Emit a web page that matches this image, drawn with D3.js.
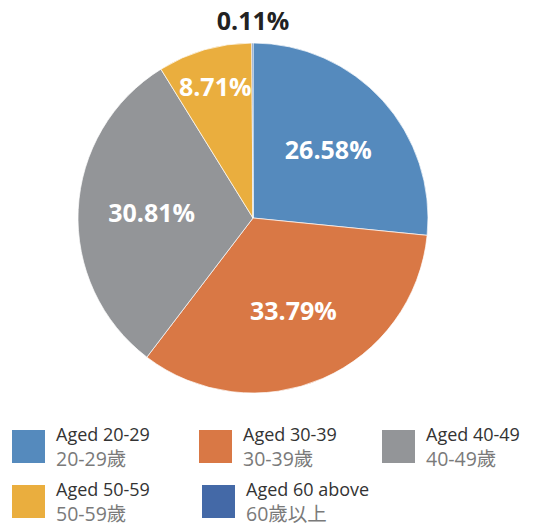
<!DOCTYPE html>
<html>
<head>
<meta charset="utf-8">
<style>
  body { margin: 0; background: #fff; }
  .slice-label { font-family: "Open Sans", sans-serif; font-weight: 700; font-size: 25px; }
  .legend-en { font-family: "Open Sans", sans-serif; font-size: 18px; fill: #333; }
  .legend-zh { font-family: "Open Sans", "Noto Sans CJK TC", sans-serif; font-size: 19.5px; fill: #7a7a7a; }
</style>
</head>
<body>
<svg width="534" height="526"></svg>
<script src="https://d3js.org/d3.v7.min.js"></script>
<script>

var categories = ["Aged 20-29", "Aged 30-39", "Aged 40-49", "Aged 50-59", "Aged 60 above"];
var categoriesZh = ["20-29歲", "30-39歲", "40-49歲", "50-59歲", "60歲以上"];
var shares = [26.58, 33.79, 30.81, 8.71, 0.11];
var colors = ["#558abd", "#d97845", "#939598", "#eaae3e", "#4469a7"];

var data = categories.map(function(c, i) {
  return { name: c, zh: categoriesZh[i], value: shares[i], color: colors[i] };
});

var svg = d3.select("svg");
var cx = 253, cy = 218, radius = 175;

var pie = d3.pie().sort(null).value(function(d) { return d.value; });
var arc = d3.arc().innerRadius(0).outerRadius(radius);

var g = svg.append("g").attr("transform", "translate(" + cx + "," + cy + ")");

var arcs = pie(data);

g.selectAll("path")
  .data(arcs)
  .enter().append("path")
  .attr("d", arc)
  .attr("fill", function(d) { return d.data.color; })
  .attr("stroke", "#fff")
  .attr("stroke-width", 0.7);

// label radius depends on slice size (small ones pushed out, tiny ones outside)
function labelRadius(d) {
  var frac = d.data.value / 100;
  if (frac < 0.01) return radius + 22;
  if (frac < 0.15) return radius * 0.78;
  return radius * 0.58;
}

g.selectAll("text.slice-label")
  .data(arcs)
  .enter().append("text")
  .attr("class", "slice-label")
  .attr("text-anchor", "middle")
  .attr("dy", "0.36em")
  .attr("fill", function(d) { return d.data.value < 1 ? "#222" : "#fff"; })
  .attr("transform", function(d) {
    var r = labelRadius(d);
    var c = d3.arc().innerRadius(r).outerRadius(r).centroid(d);
    if (d.data.value < 1) c = [0, -radius - 22];
    return "translate(" + c[0] + "," + c[1] + ")";
  })
  .text(function(d) { return d.data.value.toFixed(2) + "%"; });

// legend
var colX = [12, 199, 382];
var rowY = [430, 485];
var legend = svg.append("g");

data.forEach(function(d, i) {
  var col = i % 3, row = Math.floor(i / 3);
  var x = colX[col] + (i === 4 ? 3 : 0), y = rowY[row];
  var item = legend.append("g").attr("transform", "translate(" + x + "," + y + ")");
  item.append("rect")
    .attr("width", 33).attr("height", 33)
    .attr("fill", d.color);
  item.append("text")
    .attr("class", "legend-en")
    .attr("x", 44).attr("y", 11)
    .text(d.name);
  item.append("text")
    .attr("class", "legend-zh")
    .attr("x", 44).attr("y", 36)
    .text(d.zh);
});

</script>
</body>
</html>
